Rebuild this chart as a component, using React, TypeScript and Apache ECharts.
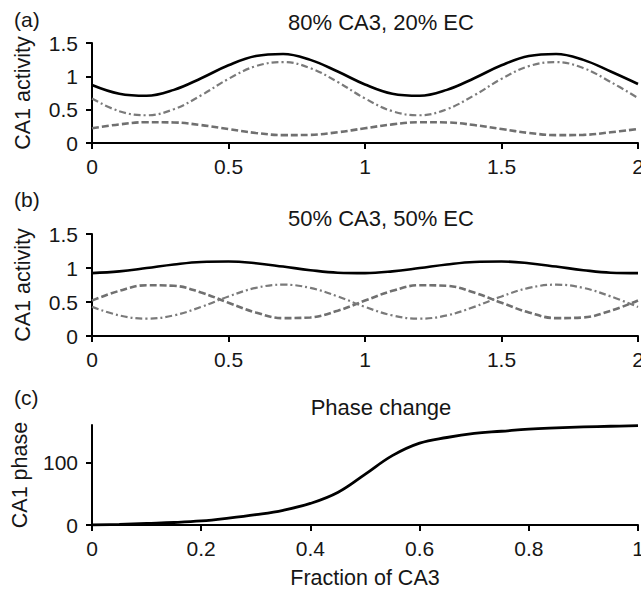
import React, { useEffect, useRef } from "react";
import * as echarts from "echarts";

// ---- data ----
const xTime = [0, 0.1, 0.2, 0.3, 0.4, 0.5, 0.6, 0.7, 0.8, 0.9, 1.0, 1.1, 1.2, 1.3, 1.4, 1.5, 1.6, 1.7, 1.8, 1.9, 2.0];

// panel (a): 80% CA3, 20% EC
const aTotal = [0.87, 0.739, 0.708, 0.797, 0.972, 1.166, 1.305, 1.336, 1.247, 1.072, 0.878, 0.739, 0.708, 0.797, 0.972, 1.166, 1.305, 1.336, 1.247, 1.072, 0.885];
const aCA3 = [0.668, 0.477, 0.416, 0.507, 0.715, 0.962, 1.153, 1.214, 1.123, 0.915, 0.668, 0.477, 0.416, 0.507, 0.715, 0.962, 1.153, 1.214, 1.123, 0.915, 0.675];
const aEC = [0.221, 0.279, 0.312, 0.308, 0.269, 0.209, 0.151, 0.118, 0.122, 0.161, 0.221, 0.279, 0.312, 0.308, 0.269, 0.209, 0.151, 0.118, 0.122, 0.161, 0.21];

// panel (b): 50% CA3, 50% EC
const bTotal = [0.925, 0.95, 0.999, 1.052, 1.089, 1.095, 1.07, 1.021, 0.968, 0.931, 0.925, 0.95, 0.999, 1.052, 1.089, 1.095, 1.07, 1.021, 0.968, 0.931, 0.925];
const bEC = [0.521, 0.664, 0.747, 0.738, 0.639, 0.489, 0.346, 0.263, 0.273, 0.371, 0.521, 0.664, 0.747, 0.738, 0.639, 0.489, 0.346, 0.263, 0.273, 0.371, 0.521];
const bCA3 = [0.428, 0.303, 0.255, 0.303, 0.428, 0.582, 0.707, 0.755, 0.707, 0.582, 0.428, 0.303, 0.255, 0.303, 0.428, 0.582, 0.707, 0.755, 0.707, 0.582, 0.428];

// panel (c): phase change
const xFraction = [0, 0.05, 0.1, 0.15, 0.2, 0.25, 0.3, 0.35, 0.4, 0.45, 0.5, 0.55, 0.6, 0.65, 0.7, 0.75, 0.8, 0.85, 0.9, 0.95, 1.0];
const phase = [0, 1, 2.5, 4, 6.5, 11, 16.5, 23.5, 34.5, 52, 81, 111, 131, 140, 146.5, 150, 153.5, 155.5, 157, 158, 159];

const activityTicks = [0, 0.5, 1, 1.5];
const phaseTicks = [0, 100];

const panelLabels = ["(a)", "(b)", "(c)"];
const panelTitles = ["80% CA3, 20% EC", "50% CA3, 50% EC", "Phase change"];

const FONT = "'Liberation Sans', Arial, Helvetica, sans-serif";
const TXT = "#161616";

const pair = (xs: number[], ys: number[]) => xs.map((x, i) => [x, ys[i]]);

export default function App() {
  const ref = useRef<HTMLDivElement>(null);
  useEffect(() => {
    if (!ref.current) return;
    const chart = echarts.init(ref.current, null, { renderer: "svg" });

    const axisLine = { show: true, onZero: false, lineStyle: { color: "#000", width: 2 } };
    const axisTick = { show: true, length: 6, lineStyle: { color: "#000", width: 2 } };
    const xLabel = { color: TXT, fontSize: 21, fontFamily: FONT, margin: 13, hideOverlap: false };
    const yLabel = { color: TXT, fontSize: 21, fontFamily: FONT, margin: 14 };
    const nameStyle = { color: TXT, fontSize: 21.5, fontFamily: FONT };

    const solid = { color: "#000", width: 2.6, type: "solid" };
    const dashDot = { color: "#7a7a7a", width: 2.2, type: [7, 3, 2, 3] };
    const dashed = { color: "#707070", width: 2.6, type: [7, 3] };

    const line = (xi: number, yi: number, data: number[][], ls: any, z = 2) => ({
      type: "line",
      xAxisIndex: xi,
      yAxisIndex: yi,
      data,
      showSymbol: false,
      symbol: "none",
      smooth: 0.4,
      lineStyle: ls,
      z,
    });

    const gridBase = { left: 92, right: 3, outerBoundsMode: "none", containLabel: false };

    const option: any = {
      animation: false,
      backgroundColor: "#fff",
      grid: [
        { ...gridBase, top: 43, height: 100 },
        { ...gridBase, top: 234, height: 102 },
        { ...gridBase, top: 425, height: 100 },
      ],
      xAxis: [0, 1].map((i) => ({
        type: "value",
        gridIndex: i,
        min: 0,
        max: 2,
        interval: 0.5,
        axisLine,
        axisTick,
        axisLabel: xLabel,
        splitLine: { show: false },
      })).concat([
        {
          type: "value",
          gridIndex: 2,
          min: 0,
          max: 1,
          interval: 0.2,
          axisLine,
          axisTick,
          axisLabel: xLabel,
          splitLine: { show: false },
          name: "Fraction of CA3",
          nameLocation: "middle",
          nameGap: 42,
          nameTextStyle: nameStyle,
        } as any,
      ]),
      yAxis: [0, 1].map((i) => ({
        type: "value",
        gridIndex: i,
        min: activityTicks[0],
        max: activityTicks[activityTicks.length - 1],
        interval: 0.5,
        axisLine,
        axisTick,
        axisLabel: yLabel,
        splitLine: { show: false },
        name: "CA1 activity",
        nameLocation: "middle",
        nameRotate: 90,
        nameGap: 58,
        nameTextStyle: nameStyle,
      })).concat([
        {
          type: "value",
          gridIndex: 2,
          min: 0,
          max: 160,
          interval: 100,
          axisLine,
          axisTick: { ...axisTick, customValues: phaseTicks },
          axisLabel: { ...yLabel, customValues: phaseTicks },
          splitLine: { show: false },
          name: "CA1 phase",
          nameLocation: "middle",
          nameRotate: 90,
          nameGap: 61,
          nameTextStyle: nameStyle,
        } as any,
      ]),
      series: [
        line(0, 0, pair(xTime, aEC), dashed, 2),
        line(0, 0, pair(xTime, aCA3), dashDot, 3),
        line(0, 0, pair(xTime, aTotal), solid, 4),
        line(1, 1, pair(xTime, bEC), dashed, 2),
        line(1, 1, pair(xTime, bCA3), dashDot, 3),
        line(1, 1, pair(xTime, bTotal), solid, 4),
        line(2, 2, pair(xFraction, phase), { color: "#000", width: 2.8, type: "solid" }, 4),
      ],
      graphic: [
        ...[21, 201, 399].map((y, i) => ({
          type: "text",
          left: 14,
          top: y - 12,
          style: { text: panelLabels[i], fill: TXT, font: `21px ${FONT}` },
        })),
        ...[11, 207, 396].map((y, i) => ({
          type: "text",
          x: 381,
          y,
          style: { text: panelTitles[i], fill: TXT, font: `22px ${FONT}`, textAlign: "center", textVerticalAlign: "top" },
        })),
      ],
    };

    chart.setOption(option);
    return () => chart.dispose();
  }, []);

  return (
    <div
      ref={ref}
      style={{ position: "fixed", left: 0, top: 0, width: 641, height: 592, background: "#fff" }}
    />
  );
}
